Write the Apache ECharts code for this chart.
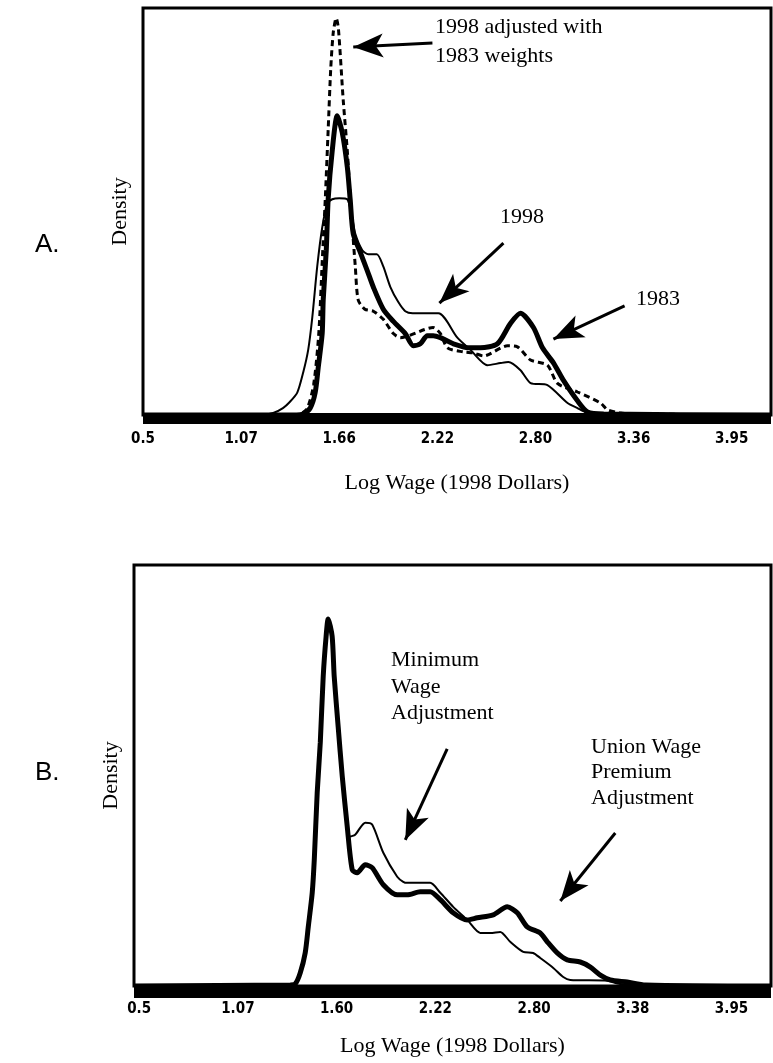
<!DOCTYPE html>
<html>
<head>
<meta charset="utf-8">
<script src="https://cdn.jsdelivr.net/npm/echarts@6/dist/echarts.min.js"></script>
<style>
  html, body { margin: 0; padding: 0; background: #fff; }
  #chart { width: 773px; height: 1063px; }
</style>
</head>
<body>
<div id="chart"></div>
<script>
// tick positions on the log wage axis and the printed labels
const ticks = [0.5, 1.075, 1.65, 2.225, 2.8, 3.375, 3.95];
const tickLabelsA = ['0.5', '1.07', '1.66', '2.22', '2.80', '3.36', '3.95'];
const tickLabelsB = ['0.5', '1.07', '1.60', '2.22', '2.80', '3.38', '3.95'];

// panel A: [log wage, density]
const dens1998 = [[0.5, 0], [1.19, 0], [1.263, 0.01], [1.32, 0.034], [1.36, 0.064], [1.404, 0.11], [1.439, 0.21],
  [1.468, 0.32], [1.492, 0.48], [1.521, 0.73], [1.55, 0.92], [1.58, 1.04], [1.609, 1.06], [1.65, 1.065],
  [1.697, 1.06], [1.726, 0.97], [1.744, 0.89], [1.785, 0.81], [1.82, 0.79], [1.87, 0.79], [1.908, 0.73],
  [1.949, 0.63], [1.996, 0.555], [2.037, 0.51], [2.08, 0.50], [2.231, 0.50], [2.342, 0.38], [2.419, 0.32],
  [2.518, 0.245], [2.594, 0.255], [2.641, 0.26], [2.712, 0.22], [2.771, 0.157], [2.87, 0.147], [2.988, 0.059],
  [3.046, 0.034], [3.093, 0.015], [3.2, 0.005], [4.18, 0]];
const dens1983 = [[0.5, 0], [1.40, 0], [1.439, 0.005], [1.48, 0.034], [1.509, 0.11], [1.527, 0.235], [1.55, 0.40],
  [1.556, 0.565], [1.574, 0.81], [1.585, 1.06], [1.609, 1.30], [1.638, 1.47], [1.667, 1.39], [1.697, 1.22],
  [1.714, 1.06], [1.732, 0.89], [1.773, 0.80], [1.814, 0.71], [1.849, 0.63], [1.908, 0.52], [1.967, 0.46],
  [2.037, 0.40], [2.084, 0.34], [2.125, 0.35], [2.166, 0.39], [2.201, 0.39], [2.243, 0.38], [2.319, 0.35],
  [2.419, 0.33], [2.477, 0.33], [2.577, 0.35], [2.653, 0.45], [2.712, 0.50], [2.788, 0.43], [2.841, 0.33],
  [2.906, 0.255], [2.964, 0.17], [3.046, 0.07], [3.105, 0.015], [3.2, 0.005], [4.18, 0]];
const dens1998w83 = [[0.5, 0], [1.40, 0], [1.46, 0.03], [1.50, 0.15], [1.53, 0.40], [1.55, 0.75], [1.568, 1.06],
  [1.585, 1.40], [1.60, 1.70], [1.615, 1.88], [1.632, 1.95], [1.645, 1.90], [1.673, 1.55], [1.697, 1.30],
  [1.72, 1.0], [1.744, 0.73], [1.761, 0.565], [1.80, 0.52], [1.85, 0.51], [1.908, 0.47], [1.967, 0.40],
  [2.008, 0.38], [2.06, 0.39], [2.15, 0.42], [2.20, 0.43], [2.243, 0.40], [2.284, 0.33], [2.377, 0.31],
  [2.436, 0.305], [2.495, 0.29], [2.636, 0.34], [2.694, 0.335], [2.771, 0.27], [2.87, 0.245], [2.929, 0.155],
  [3.046, 0.113], [3.181, 0.059], [3.222, 0.025], [3.3, 0.01], [3.4, 0.005], [4.18, 0]];

// panel B
const densMinWage = [[0.47, 0], [1.38, 0.005], [1.409, 0.01], [1.438, 0.062], [1.467, 0.157], [1.485, 0.281],
  [1.508, 0.443], [1.52, 0.60], [1.537, 0.919], [1.555, 1.157], [1.572, 1.471], [1.589, 1.662], [1.601, 1.743],
  [1.624, 1.662], [1.636, 1.471], [1.659, 1.233], [1.683, 0.995], [1.712, 0.757], [1.741, 0.552], [1.77, 0.538],
  [1.817, 0.576], [1.857, 0.562], [1.922, 0.481], [2.003, 0.433], [2.061, 0.433], [2.137, 0.448], [2.195, 0.448],
  [2.254, 0.41], [2.329, 0.348], [2.411, 0.314], [2.469, 0.324], [2.562, 0.338], [2.644, 0.376], [2.702, 0.348],
  [2.76, 0.281], [2.836, 0.252], [2.877, 0.21], [2.935, 0.157], [2.993, 0.124], [3.069, 0.114], [3.128, 0.09],
  [3.186, 0.052], [3.244, 0.029], [3.343, 0.019], [3.45, 0.005], [4.18, 0]];
const densUnion = [[0.47, 0], [1.38, 0.005], [1.409, 0.01], [1.438, 0.062], [1.467, 0.157], [1.485, 0.281],
  [1.508, 0.443], [1.52, 0.60], [1.537, 0.919], [1.555, 1.157], [1.572, 1.471], [1.589, 1.662], [1.601, 1.743],
  [1.624, 1.662], [1.636, 1.471], [1.659, 1.233], [1.683, 0.995], [1.712, 0.757], [1.729, 0.71], [1.758, 0.719],
  [1.817, 0.776], [1.857, 0.767], [1.922, 0.633], [2.003, 0.519], [2.038, 0.495], [2.061, 0.49], [2.195, 0.49],
  [2.254, 0.443], [2.329, 0.376], [2.411, 0.314], [2.487, 0.252], [2.545, 0.252], [2.603, 0.257], [2.661, 0.21],
  [2.737, 0.162], [2.795, 0.157], [2.836, 0.133], [2.912, 0.086], [2.97, 0.043], [3.011, 0.029], [3.226, 0.025],
  [3.3, 0.01], [4.18, 0]];

// arrows [from, to] in data coordinates
const arrowsA = [[[2.196, 1.828], [1.732, 1.808]], [[2.612, 0.845], [2.237, 0.55]], [[3.322, 0.536], [2.905, 0.373]]];
const arrowsB = [[[2.294, 1.126], [2.05, 0.694]], [[3.273, 0.727], [2.953, 0.404]]];

const serif = 'Liberation Serif';
const chart = echarts.init(document.getElementById('chart'));

function tickFormatter(labels) {
    return function (val) {
        const i = ticks.findIndex(t => Math.abs(t - val) < 1e-6);
        return i >= 0 ? labels[i] : '';
    };
}

function xAxisFor(idx, min, labels, band, offset, margin, gap) {
    return {
        type: 'value', gridIndex: idx, min: min, max: 4.18, offset: offset,
        axisLine: { show: true, onZero: false, lineStyle: { color: '#000', width: band, cap: 'butt' } },
        axisTick: { show: false },
        splitLine: { show: false },
        axisLabel: {
            customValues: ticks, formatter: tickFormatter(labels), margin: margin,
            fontFamily: '"DejaVu Sans Condensed", "DejaVu Sans"', fontWeight: 'bold', fontSize: 15, color: '#000'
        },
        name: 'Log Wage (1998 Dollars)', nameLocation: 'middle', nameGap: gap,
        nameTextStyle: { fontFamily: serif, fontSize: 22, color: '#000' }
    };
}

function yAxisFor(idx) {
    return {
        type: 'value', gridIndex: idx, min: 0, max: 2,
        axisLine: { show: false }, axisTick: { show: false }, axisLabel: { show: false },
        splitLine: { show: false },
        name: 'Density', nameLocation: 'middle', nameGap: 12,
        nameTextStyle: { fontFamily: serif, fontSize: 22, color: '#000' }
    };
}

function arrowLines(list) {
    return {
        silent: true, animation: false,
        symbol: ['none', 'arrow'], symbolSize: [18, 30],
        label: { show: false },
        lineStyle: { color: '#000', width: 3, type: 'solid' },
        emphasis: { disabled: true },
        data: list.map(a => [{ coord: a[0] }, { coord: a[1] }])
    };
}

function curve(name, data, idx, width, dash, marks) {
    const s = {
        name: name, type: 'line', xAxisIndex: idx, yAxisIndex: idx, data: data,
        showSymbol: false, smooth: 0.25,
        lineStyle: { color: '#000', width: width, type: dash ? [6, 4] : 'solid' },
        emphasis: { disabled: true }
    };
    if (marks) s.markLine = marks;
    return s;
}

const note = '22px "Liberation Serif"';

const option = {
    animation: false,
    backgroundColor: '#fff',
    grid: [
        { left: 143, top: 8, width: 628, height: 407, show: true, borderColor: '#000', borderWidth: 3 },
        { left: 134, top: 565, width: 637, height: 421, show: true, borderColor: '#000', borderWidth: 3 }
    ],
    xAxis: [
        xAxisFor(0, 0.5, tickLabelsA, 11, 3.5, 13, 54),
        xAxisFor(1, 0.47, tickLabelsB, 13, 5, 11, 44)
    ],
    yAxis: [yAxisFor(0), yAxisFor(1)],
    series: [
        curve('1998', dens1998, 0, 2, false),
        curve('1998 adjusted with 1983 weights', dens1998w83, 0, 3, true),
        curve('1983', dens1983, 0, 5, false, arrowLines(arrowsA)),
        curve('Union Wage Premium Adjustment', densUnion, 1, 2, false),
        curve('Minimum Wage Adjustment', densMinWage, 1, 5, false, arrowLines(arrowsB))
    ],
    graphic: [
        { type: 'text', left: 35, top: 232, style: { text: 'A.', font: '26px "Liberation Sans"', fill: '#000' } },
        { type: 'text', left: 35, top: 760, style: { text: 'B.', font: '26px "Liberation Sans"', fill: '#000' } },
        { type: 'text', left: 435, top: 13, style: { text: '1998 adjusted with\n1983 weights', font: note, lineHeight: 29, fill: '#000' } },
        { type: 'text', left: 500, top: 206, style: { text: '1998', font: note, fill: '#000' } },
        { type: 'text', left: 636, top: 288, style: { text: '1983', font: note, fill: '#000' } },
        { type: 'text', left: 391, top: 647, style: { text: 'Minimum\nWage\nAdjustment', font: note, lineHeight: 26.5, fill: '#000' } },
        { type: 'text', left: 591, top: 734, style: { text: 'Union Wage\nPremium\nAdjustment', font: note, lineHeight: 25.5, fill: '#000' } }
    ]
};

chart.setOption(option);
</script>
</body>
</html>
